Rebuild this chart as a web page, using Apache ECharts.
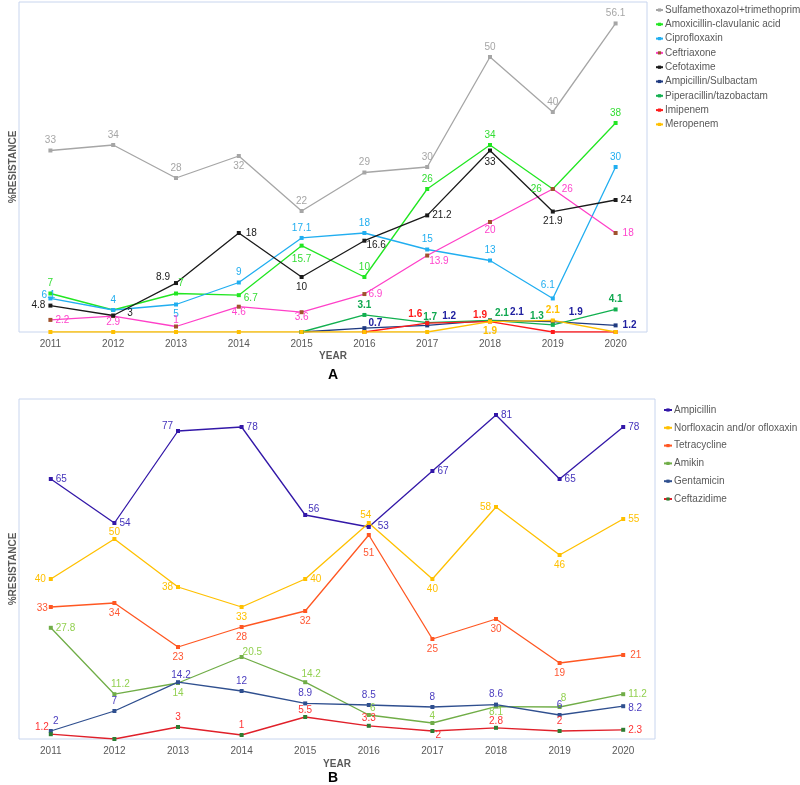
<!DOCTYPE html>
<html><head><meta charset="utf-8">
<script src="https://cdn.jsdelivr.net/npm/echarts@6/dist/echarts.min.js"></script>
<style>html,body{margin:0;padding:0;background:#fff}#c{width:800px;height:785px}</style>
</head><body><div id="c"></div>
<script>
const years = ['2011','2012','2013','2014','2015','2016','2017','2018','2019','2020'];
// Chart A
const sulfa = [33,34,28,32,22,29,30,50,40,56.1];
const amox = [7,4,7,6.7,15.7,10,26,34,26,38];
const cipro = [6.1,4,5,9,17.1,18,15,13,6.1,30];
const ceftriaxone = [2.2,2.9,1,4.6,3.6,6.9,13.9,20,26,18];
const cefotaxime = [4.8,3,8.9,18,10,16.6,21.2,33,21.9,24];
const ampSulb = [null,null,null,null,0,0.7,1.2,2.1,1.9,1.2];
const pipTazo = [null,null,null,null,0,3.1,1.7,2.1,1.3,4.1];
const imipenem = [null,null,null,null,null,0,1.6,1.9,0,0];
const meropenem = [0,0,0,0,0,0,0,1.9,2.1,0];
// Chart B
const ampicillin = [65,54,77,78,56,53,67,81,65,78];
const norflox = [40,50,38,33,40,54,40,58,46,55];
const tetracycline = [33,34,23,28,32,51,25,30,19,21];
const amikin = [27.8,11.2,14,20.5,14.2,6,4,8.1,8,11.2];
const gentamicin = [2,7,14.2,12,8.9,8.5,8,8.6,6,8.2];
const ceftazidime = [1.2,0,3,1,5.5,3.3,2,2.8,2,2.3];

const FONT = "'Liberation Sans', Arial, sans-serif";
const posMap = {t:'top', b:'bottom', l:'left', r:'right'};

function mk(name, vals, specs, line, marker, labelColor, bold, idx) {
  return {
    name: name, type: 'line', xAxisIndex: idx, yAxisIndex: idx,
    symbol: 'rect', symbolSize: 4, connectNulls: false,
    lineStyle: {color: line, width: 1.3},
    itemStyle: {color: marker},
    data: vals.map((v, i) => {
      const sp = specs[i].split(':');
      const show = v !== null && v !== 0 && sp[0] !== 'x';
      return {
        value: v,
        label: {
          show: show,
          position: posMap[sp[0]] || 'top',
          distance: 3,
          offset: [Number(sp[1] || 0), Number(sp[2] || 0)],
          color: labelColor, fontSize: 10, fontFamily: FONT,
          fontWeight: bold ? 'bold' : 'normal'
        }
      };
    })
  };
}

const series = [
  mk('Sulfamethoxazol+trimethoprim', sulfa, ['t','t','t','b','t','t','t','t','t','t'], '#a6a6a6', '#a6a6a6', '#a6a6a6', false, 0),
  mk('Amoxicillin-clavulanic acid', amox, ['t','x','t:5','r:0:3','b:0:4','t','t','t','l:-6','t'], '#22e622', '#22e622', '#33dd33', false, 0),
  mk('Ciprofloxaxin', cipro, ['t:-2:7','t','b','t','t','t','t','t','t:-5:-3','t'], '#21aef0', '#21aef0', '#21aef0', false, 0),
  mk('Ceftriaxone', ceftriaxone, ['r','b:0:-4','t:0:4','b:0:-4','b:0:-5','r:-1','r:-3:6','b:0:-2','r:4','r:2'], '#ff40c8', '#a0522d', '#ff44cc', false, 0),
  mk('Cefotaxime', cefotaxime, ['l','r:9:-2','l:-1:-6','r:2','b','r:-3:5','r','b:0:2','b','r'], '#1a1a1a', '#1a1a1a', '#1a1a1a', false, 0),
  mk('Ampicillin/Sulbactam', ampSulb, ['x','x','x','x','x','r:-1:-5','r:10:-9','r:15:-8','r:11:-9','r:2'], '#1f3a80', '#1f3a80', '#2020a0', true, 0),
  mk('Piperacillin/tazobactam', pipTazo, ['x','x','x','x','x','t','t:3:5','r:0:-7','l:-4:-9','t'], '#12b050', '#12b050', '#10a850', true, 0),
  mk('Imipenem', imipenem, ['x','x','x','x','x','x','l:0:-9','l:2:-6','x','x'], '#ff1a1a', '#ff1a1a', '#ff1a1a', true, 0),
  mk('Meropenem', meropenem, ['x','x','x','x','x','x','x','b','t','x'], '#ffc000', '#ffc000', '#ffc000', true, 0),

  mk('Ampicillin', ampicillin, ['r','r','l:0:-5','r','r:-2:-6','r:4:-1','r','r','r','r'], '#3318a8', '#3318a8', '#4433bb', false, 1),
  mk('Norfloxacin and/or ofloxaxin', norflox, ['l','t:0:3','l','b','r','t:-3:2','b','l','b','r'], '#ffc000', '#ffc000', '#ffc000', false, 1),
  mk('Tetracycline', tetracycline, ['l:2:1','b','b','b','b','b:0:8','b','b','b','r:2'], '#ff5722', '#ff5722', '#ff5733', false, 1),
  mk('Amikin', amikin, ['r','t:6','b','r:-4:-5','t:6:2','t:4:3','t:0:3','b:0:-4','t:4:1','r'], '#70ad47', '#70ad47', '#92d050', false, 1),
  mk('Gentamicin', gentamicin, ['t:5','t','t:3:3','t','t','t','t','t','t','r:0:2'], '#2f4f8f', '#2f4f8f', '#4a3cbf', false, 1),
  mk('Ceftazidime', ceftazidime, ['l:3:-7','x','t','t','t:0:3','t:0:2','b:6:-6','t:0:3','t','r'], '#e0202a', '#2e7d32', '#ff3333', false, 1)
];

const legendA = ['Sulfamethoxazol+trimethoprim','Amoxicillin-clavulanic acid','Ciprofloxaxin','Ceftriaxone','Cefotaxime','Ampicillin/Sulbactam','Piperacillin/tazobactam','Imipenem','Meropenem'];
const legendB = ['Ampicillin','Norfloxacin and/or ofloxaxin','Tetracycline','Amikin','Gentamicin','Ceftazidime'];

function xAx(idx, gap) {
  return {
    type: 'category', gridIndex: idx, data: years, boundaryGap: true,
    axisLine: {show: false}, axisTick: {show: false},
    axisLabel: {color: '#595959', fontSize: 10, margin: 7, fontFamily: FONT},
    name: 'YEAR', nameLocation: 'middle', nameGap: gap,
    nameTextStyle: {color: '#595959', fontSize: 10, fontWeight: 'bold', fontFamily: FONT}
  };
}
function yAx(idx, max, gap) {
  return {
    type: 'value', gridIndex: idx, min: 0, max: max,
    axisLabel: {show: false}, splitLine: {show: false},
    axisLine: {show: false}, axisTick: {show: false},
    name: '%RESISTANCE', nameLocation: 'middle', nameGap: gap,
    nameTextStyle: {color: '#595959', fontSize: 10, fontWeight: 'bold', fontFamily: FONT}
  };
}
function leg(data, left, top, gap, w) {
  return {
    data: data, orient: 'vertical', left: left, top: top, padding: 0,
    itemWidth: w, itemHeight: 4, itemGap: gap,
    textStyle: {color: '#595959', fontSize: 10, fontFamily: FONT, lineHeight: 12, padding: [0,0,0,-3]}
  };
}

const chart = echarts.init(document.getElementById('c'), null, {renderer: 'canvas'});
chart.setOption({
  animation: false,
  grid: [
    {left: 17, top: 2, width: 630, height: 330, show: true, borderColor: '#c8d5ee', borderWidth: 1, backgroundColor: 'transparent'},
    {left: 12, top: 399, width: 643, height: 340, show: true, borderColor: '#c8d5ee', borderWidth: 1, backgroundColor: 'transparent'}
  ],
  xAxis: [xAx(0, 19), xAx(1, 20)],
  yAxis: [yAx(0, 60, 1), yAx(1, 85, 1)],
  legend: [leg(legendA, 655, 4, 2.3, 7), leg(legendB, 663, 404, 5.8, 8)],
  graphic: [
    {type: 'text', left: 328, top: 368, style: {text: 'A', fontSize: 14, fontWeight: 'bold', fill: '#000', fontFamily: FONT}},
    {type: 'text', left: 328, top: 771, style: {text: 'B', fontSize: 14, fontWeight: 'bold', fill: '#000', fontFamily: FONT}}
  ],
  series: series
});
</script>
</body></html>
